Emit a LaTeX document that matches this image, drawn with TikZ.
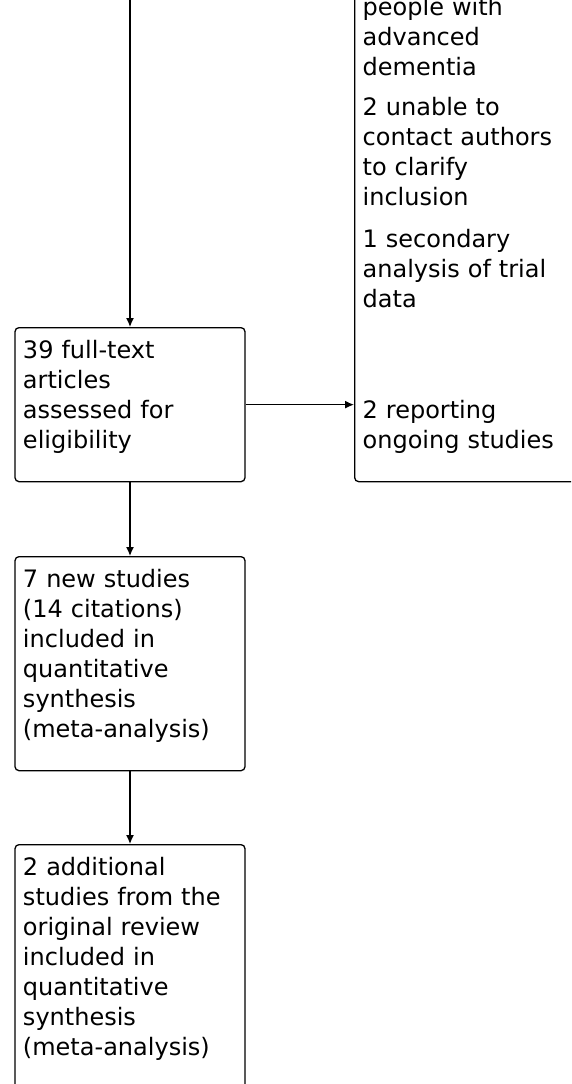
\documentclass[tikz,border=0pt]{standalone}
\usepackage{fontspec}
\setmainfont{DejaVu Sans}
\usetikzlibrary{arrows.meta}
\begin{document}
\begin{tikzpicture}[>={Latex[length=9pt,width=8pt]},x=1pt,y=-1pt,line width=1.3pt,
    box/.style={draw,rounded corners=4pt,align=left,text width=214pt,inner xsep=8pt,inner ysep=12pt,
        text height=19pt,text depth=#1,font=\fontsize{24}{30}\selectfont,anchor=north}]
\useasboundingbox(0,0)rectangle(571,1084);
\clip(0,0)rectangle(571,1084);
\coordinate(start)at(130,-10);
\node[box=111pt](full)at(130,327){39 full-text\\articles\\assessed for\\eligibility};
\node[box=171pt](incl)at(130,556){7 new studies\\(14 citations)\\included in\\quantitative\\synthesis\\(meta-analysis)};
\node[box=201pt](orig)at(130,844){2 additional\\studies from the\\original review\\included in\\quantitative\\synthesis\\(meta-analysis)};
\node[box=454pt,text width=230pt,anchor=north west](excl)at(354,-16){people with\\advanced\\dementia\\[10pt]2 unable to\\contact authors\\to clarify\\inclusion\\[12pt]1 secondary\\analysis of trial\\data\\[81pt]2 reporting\\ongoing studies};

\draw[->](start)--(full);
\draw[->](full)--(incl);
\draw[->](incl)--(orig);
\draw[->](full)--(full-|excl.west);

\end{tikzpicture}
\end{document}
